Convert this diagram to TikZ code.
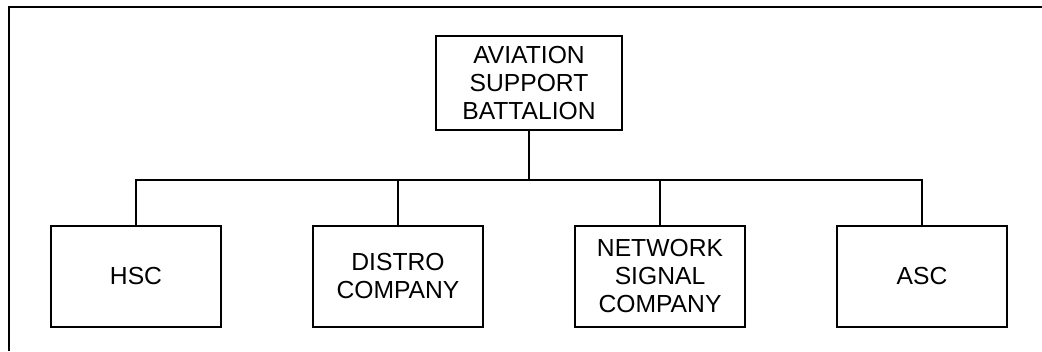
\documentclass[tikz,border=0pt]{standalone}
\usepackage{fontspec}
\setmainfont{Liberation Sans}
\tikzset{
	unitbox/.style={draw, line width=1.4pt, align=center, minimum width=127.5pt, minimum height=75.75pt, inner sep=0pt, font=\fontsize{18.5}{21}\selectfont},
	link/.style={line width=1.4pt}
}
\begin{document}
\begin{tikzpicture}[x=0.75pt, y=-0.75pt]
	\useasboundingbox (0,0) rectangle (1042,351);

	% frame
	\draw[line width=1.8pt] (9,351) -- (9,7) -- (1042,7);

	% battalion
	\node[unitbox, minimum width=139.5pt, minimum height=70.5pt] (asb) at (529,83) {AVIATION\\SUPPORT\\BATTALION};

	% companies
	\node[unitbox] (hsc) at (136,276.5) {HSC};
	\node[unitbox] (distro) at (398,276.5) {DISTRO\\COMPANY};
	\node[unitbox] (network) at (660,276.5) {NETWORK\\SIGNAL\\COMPANY};
	\node[unitbox] (asc) at (922,276.5) {ASC};

	% lines
	\coordinate (bus) at (529,180);
	\draw[link] (asb) -- (bus);
	\foreach \n in {hsc, distro, network, asc}
		\draw[link] (bus) -| (\n);
\end{tikzpicture}
\end{document}
